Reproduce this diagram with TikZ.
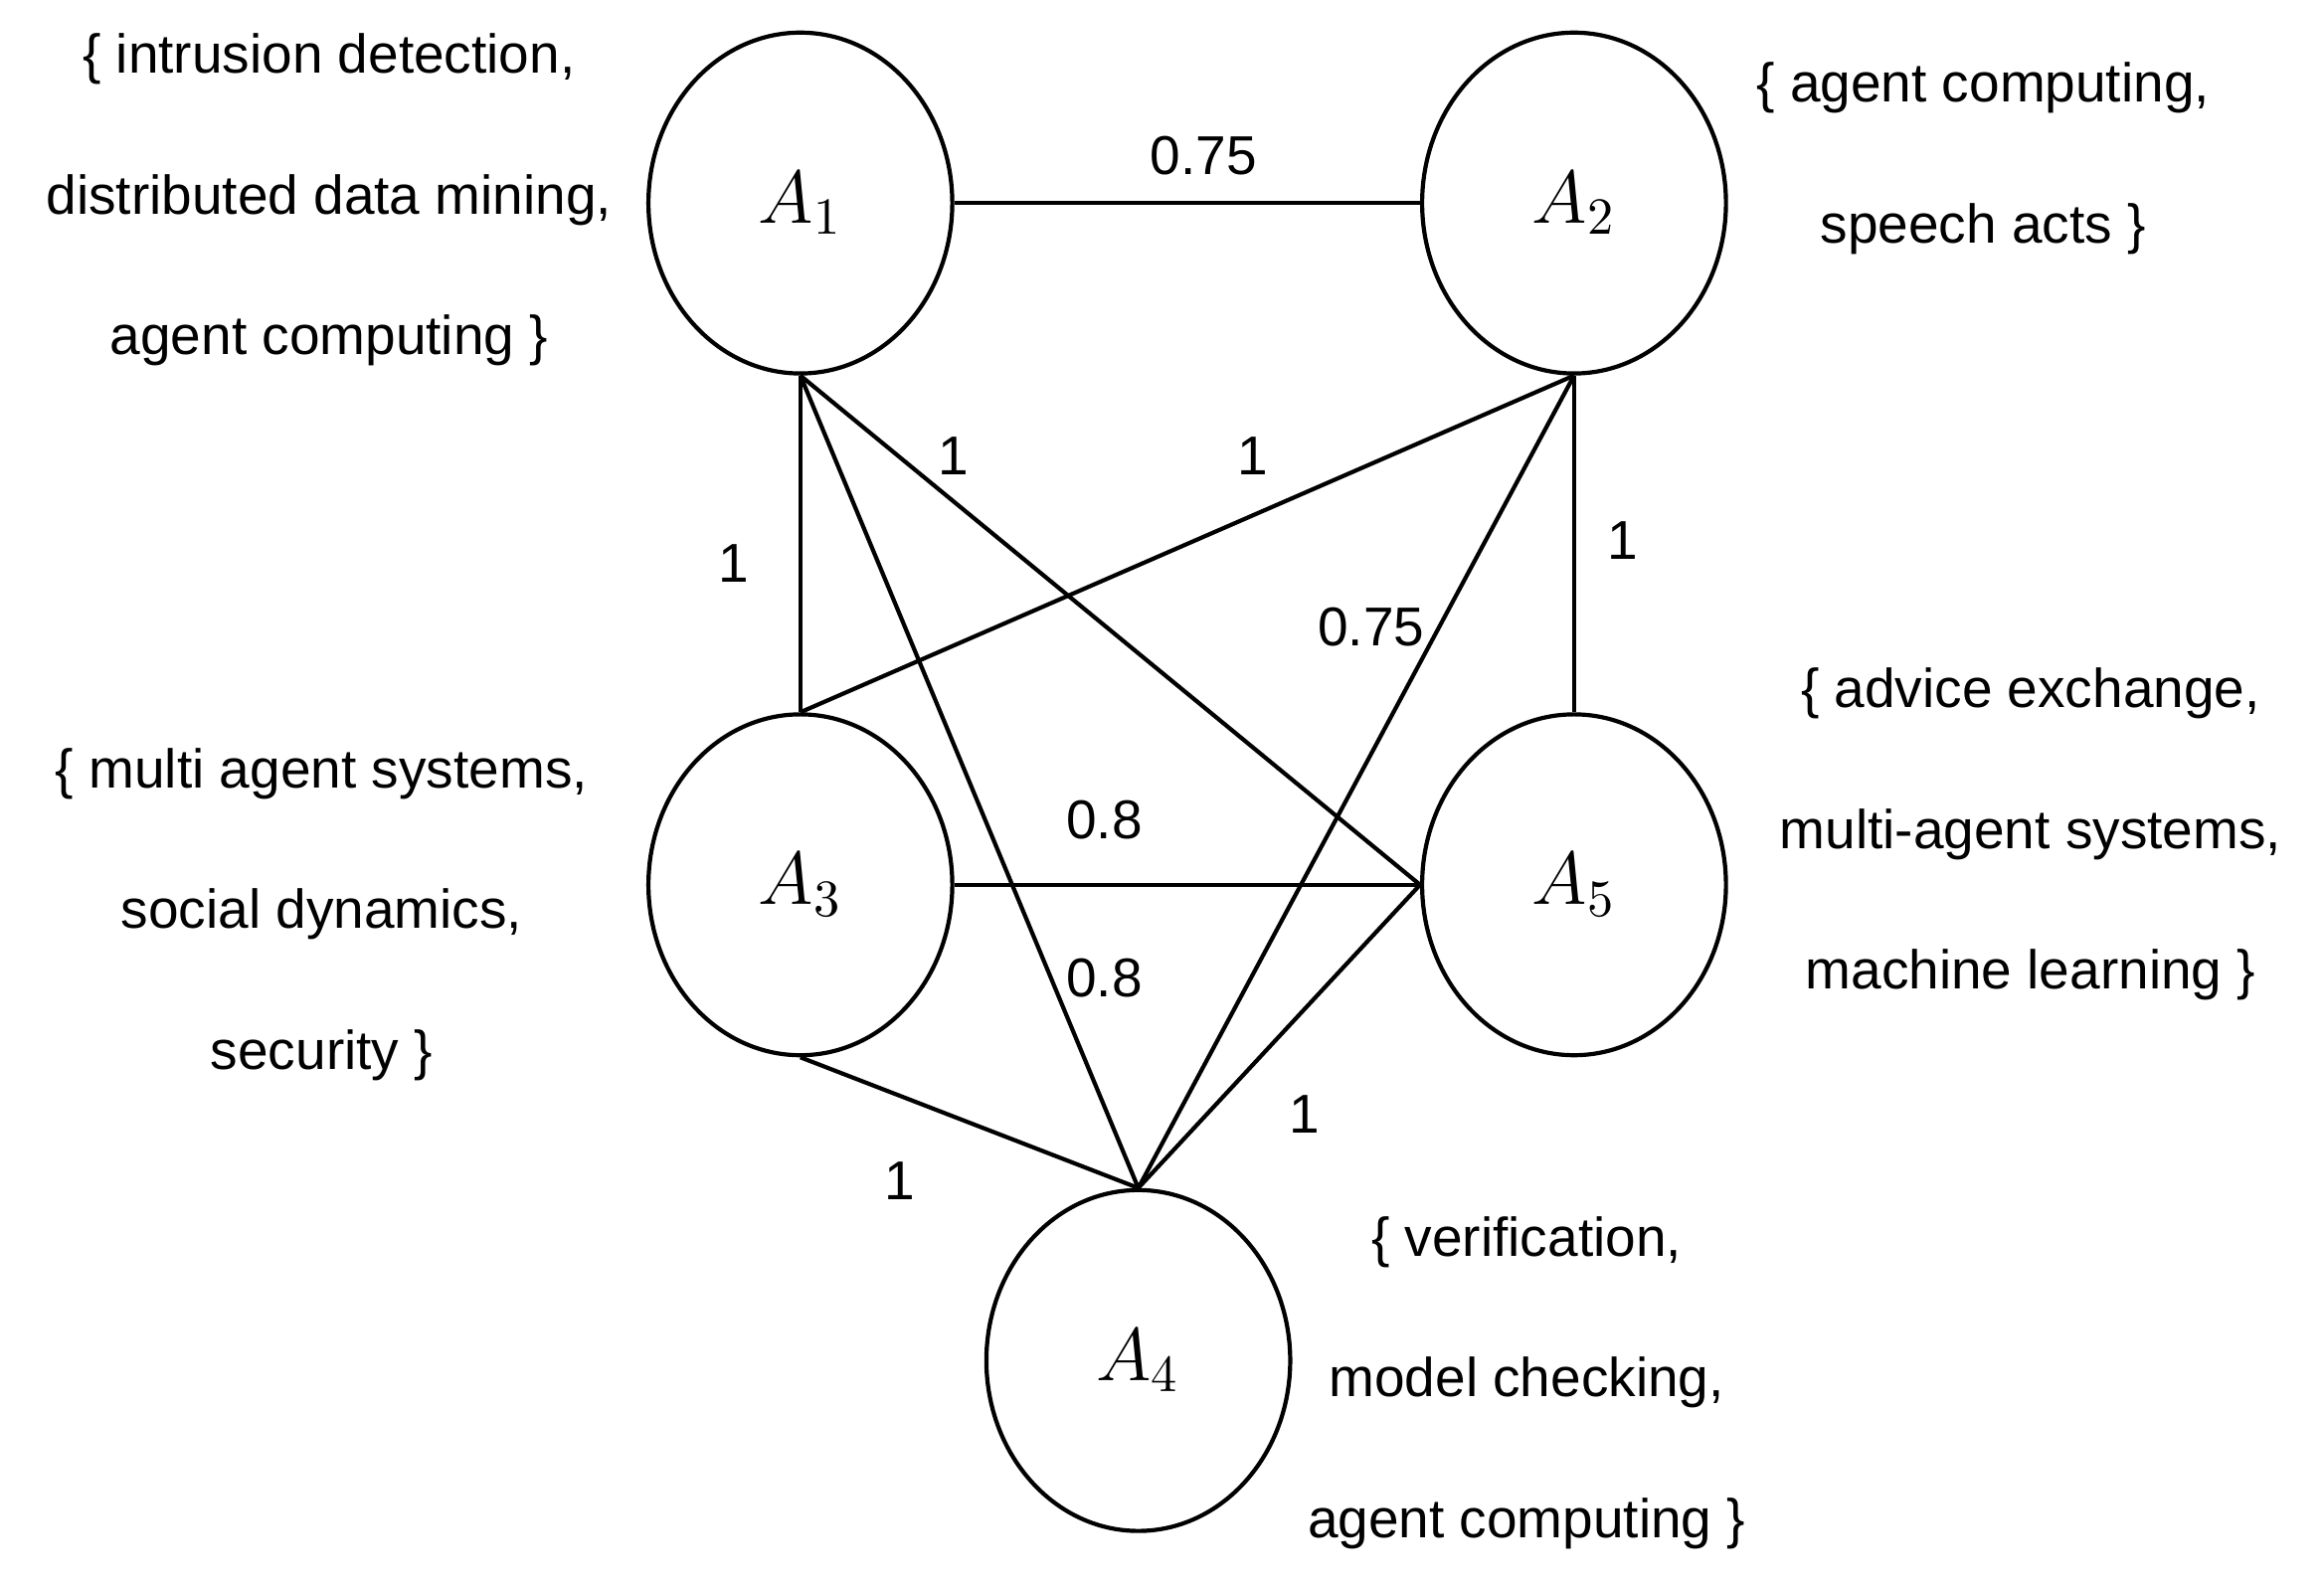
\documentclass[tikz,border=0pt]{standalone}
\usepackage{fontspec}
\setmainfont{Liberation Sans}
\usetikzlibrary{shapes.geometric}
\begin{document}
\begin{tikzpicture}[
    agent/.style={ellipse,draw=black,thick,minimum width=2.05cm,minimum height=2.3cm,font=\fontsize{14}{16}\selectfont},
    topics/.style={align=center,font=\fontsize{10.5}{27}\selectfont},
    weight/.style={font=\fontsize{10.5}{12}\selectfont},
    link/.style={thick}
    ]
    \useasboundingbox (0,0) rectangle (15.68,-10.71);
    \node[agent] (a1) at (5.40,-1.37) {$A_1$};
    \node[agent] (a2) at (10.62,-1.37) {$A_2$};
    \node[agent] (a3) at (5.40,-5.97) {$A_3$};
    \node[agent] (a5) at (10.62,-5.97) {$A_5$};
    \node[agent] (a4) at (7.68,-9.18) {$A_4$};
    % keyword sets
    \node[topics] (t1) at (2.22,-1.35) {\{ intrusion detection,\\ distributed data mining,\\ agent computing \}};
    \node[topics] (t2) at (13.38,-1.07) {\{ agent computing,\\ speech acts \}};
    \node[topics] (t3) at (2.17,-6.17) {\{ multi agent systems,\\ social dynamics,\\ security \}};
    \node[topics] (t5) at (13.70,-5.63) {\{ advice exchange,\\ multi-agent systems,\\ machine learning \}};
    \node[topics] (t4) at (10.30,-9.33) {\{ verification,\\ model checking,\\ agent computing \}};
    % links
    \draw[link] (a1.east) -- (a2.west);
    \draw[link] (a1.south) -- (a3.north);
    \draw[link] (a1.south) -- (a5.west);
    \draw[link] (a1.south) -- (a4.north);
    \draw[link] (a2.south) -- (a3.north);
    \draw[link] (a2.south) -- (a4.north);
    \draw[link] (a2.south) -- (a5.north);
    \draw[link] (a3.east) -- (a5.west);
    \draw[link] (a3.south) -- (a4.north);
    \draw[link] (a5.west) -- (a4.north);
    % weights
    \node[weight] (w12) at (8.12,-1.05) {0.75};
    \node[weight] (w15) at (6.43,-3.08) {1};
    \node[weight] (w23) at (8.45,-3.08) {1};
    \node[weight] (w13) at (4.95,-3.80) {1};
    \node[weight] (w25) at (10.95,-3.65) {1};
    \node[weight] (w24) at (9.25,-4.23) {0.75};
    \node[weight] (w35) at (7.45,-5.53) {0.8};
    \node[weight] (w14) at (7.45,-6.60) {0.8};
    \node[weight] (w54) at (8.80,-7.52) {1};
    \node[weight] (w34) at (6.07,-7.97) {1};
\end{tikzpicture}
\end{document}
